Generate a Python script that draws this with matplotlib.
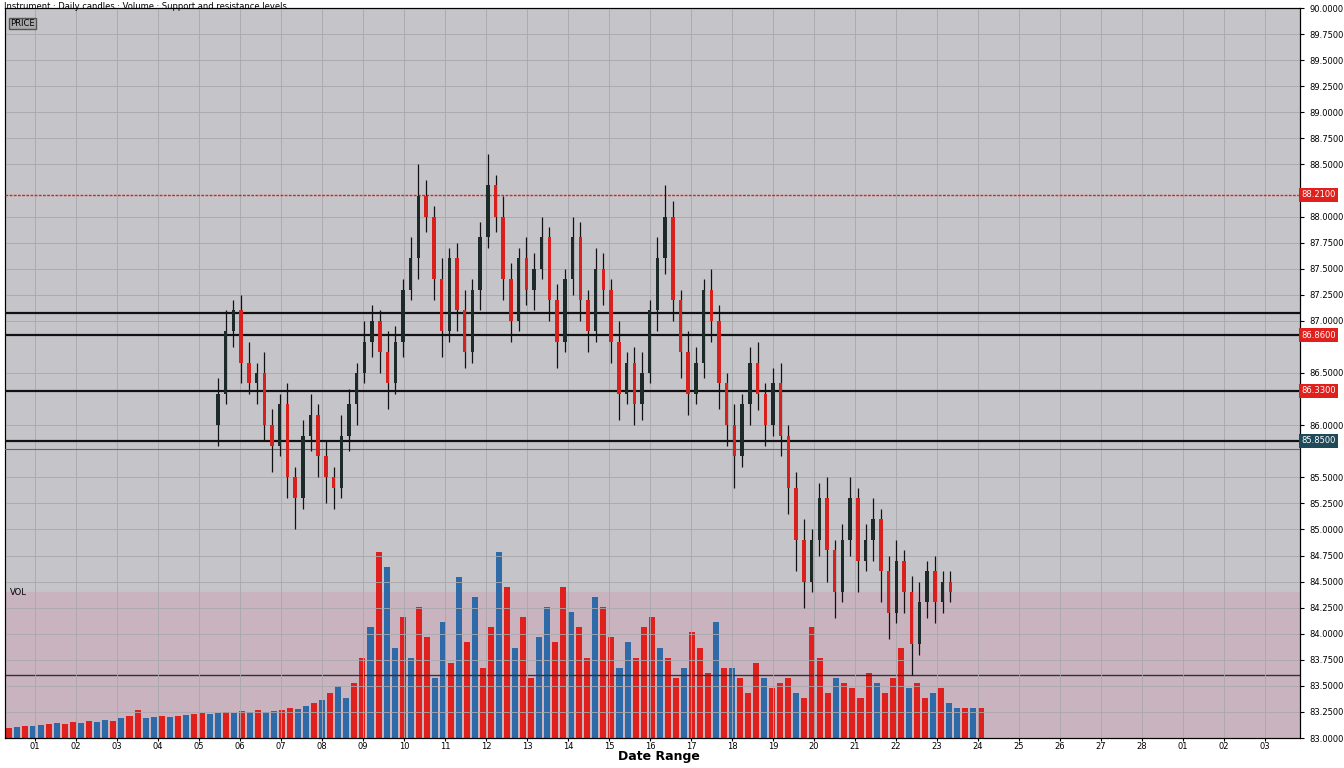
import matplotlib
matplotlib.use("Agg")
import matplotlib.pyplot as plt
from matplotlib.ticker import FormatStrFormatter

closes = [86.3,86.9,87.1,86.6,86.4,86.5,86.0,85.8,86.2,85.5,85.3,85.9,86.1,85.7,85.5,85.4,85.9,86.2,86.5,86.8,
          87.0,86.7,86.4,86.8,87.3,87.6,88.2,88.0,87.4,86.9,87.6,87.1,86.7,87.3,87.8,88.3,88.0,87.4,87.0,87.6,
          87.3,87.5,87.8,87.2,86.8,87.4,87.8,87.2,86.9,87.5,87.3,86.8,86.3,86.6,86.2,86.5,87.1,87.6,88.0,87.2,
          86.7,86.3,86.6,87.3,87.0,86.4,86.0,85.7,86.2,86.6,86.3,86.0,86.4,85.9,85.4,84.9,84.5,84.9,85.3,84.8,
          84.4,84.9,85.3,84.7,84.9,85.1,84.6,84.2,84.7,84.4,83.9,84.3,84.6,84.3,84.5,84.4]
wick_up = [0.15,0.2,0.1,0.15,0.2,0.1,0.2,0.15,0.1,0.2,0.1,0.15,0.2,0.1,0.15,0.1,0.2,0.15,0.1,0.2,
           0.15,0.1,0.2,0.15,0.1,0.2,0.3,0.15,0.1,0.2,0.1,0.15,0.2,0.1,0.15,0.3,0.1,0.2,0.15,0.1,
           0.2,0.15,0.2,0.1,0.15,0.1,0.2,0.15,0.1,0.2,0.15,0.1,0.2,0.1,0.15,0.2,0.1,0.2,0.3,0.15,
           0.1,0.2,0.15,0.1,0.2,0.15,0.1,0.2,0.1,0.15,0.2,0.1,0.15,0.2,0.1,0.15,0.2,0.1,0.15,0.2,
           0.1,0.15,0.2,0.1,0.15,0.2,0.1,0.15,0.2,0.1,0.15,0.2,0.1,0.15,0.1,0.1]
wick_dn = [0.2,0.1,0.15,0.2,0.1,0.2,0.15,0.25,0.1,0.2,0.3,0.1,0.15,0.2,0.25,0.2,0.1,0.15,0.2,0.1,
           0.15,0.2,0.25,0.1,0.15,0.1,0.2,0.15,0.2,0.25,0.1,0.2,0.15,0.1,0.2,0.1,0.15,0.2,0.2,0.1,
           0.15,0.2,0.1,0.2,0.25,0.1,0.15,0.2,0.2,0.1,0.15,0.2,0.25,0.1,0.2,0.15,0.1,0.2,0.15,0.2,
           0.25,0.2,0.1,0.15,0.2,0.25,0.2,0.3,0.1,0.2,0.15,0.2,0.1,0.2,0.25,0.3,0.25,0.1,0.15,0.3,
           0.25,0.1,0.15,0.3,0.1,0.2,0.3,0.25,0.1,0.2,0.3,0.1,0.15,0.2,0.1,0.1]
volumes = [10,11,12,12,13,14,15,14,16,15,17,16,18,17,20,22,28,20,21,22,21,22,23,24,25,24,25,26,25,27,
           26,28,26,27,28,30,29,32,35,38,45,52,40,55,80,110,185,170,90,120,80,130,100,60,115,75,160,95,140,70,
           110,185,150,90,120,60,100,130,95,150,125,110,80,140,130,100,70,95,80,110,120,90,80,60,70,105,90,65,
           115,70,70,60,45,75,60,50,55,60,45,40,110,80,45,60,55,50,40,65,55,45,60,90,50,55,40,45,50,35,30,30,30,30]
vol_dir = "rbrbbrbrrbrbbrbrrbbrbrbrrbbrbrbrbbrrbbrbrbbrrbrbbrbrrbbrbrbrrbrbrrbbrrbrrbrrbbrrrbrrbrrrbrbrrrbrrrbrrrrbrrrrbrrrbr"
levels_black = [87.08, 86.86, 86.33, 85.85]
level_red = 88.21

fig = plt.figure(figsize=(13.44, 7.68), dpi=100)
ax = fig.add_axes([5/1344, 30/768, 1295/1344, 730/768])
ax.set_xlim(0, 1295)
ax.set_ylim(83.0, 90.0)

vax = ax.twinx()
vmax = max(volumes)
vtop = vmax * 730 / 186
vax.set_ylim(0, vtop)
vax.set_yticks([])
vax.patch.set_visible(True)
vax.set_facecolor("#c5c5c9")
vax.axhspan(0, 146 / 730 * vtop, color="#c9b3bf", zorder=0)
vstep = 980 / len(volumes)
for i, v in enumerate(volumes):
    c = "#e0201c" if vol_dir[i % len(vol_dir)] == "r" else "#2f6aa8"
    vax.bar(i * vstep + vstep / 2, v, width=vstep * 0.75, color=c, zorder=2)
vax.axhline(63 / 730 * vtop, color="#333", lw=1)

ax.set_zorder(vax.get_zorder() + 1)
ax.patch.set_visible(False)

cstep = 740 / len(closes)
prev = closes[0] - 0.3
for i, c in enumerate(closes):
    x = 213 + i * cstep
    o = prev
    hi = max(o, c) + wick_up[i]
    lo = min(o, c) - wick_dn[i]
    col = "#1c2a2a" if c >= o else "#d8201c"
    ax.vlines(x, lo, hi, color="#111", lw=0.9, zorder=4)
    ax.bar(x, abs(c - o), bottom=min(o, c), width=cstep * 0.45, color=col, zorder=5)
    prev = c

for lv in levels_black:
    ax.axhline(lv, color="#111", lw=1.6, zorder=3)
ax.axhline(85.77, color="#666", lw=0.8, zorder=3)
ax.axhline(level_red, color="#e0201c", lw=1, ls=(0, (2, 1)), zorder=3)

ax.yaxis.tick_right()
ticks = [t / 4 for t in range(332, 361)]
ticks = [t for t in ticks if all(abs(t - l) > 0.12 for l in [level_red, 86.86, 86.33, 85.85])]
ax.set_yticks(ticks)
ax.yaxis.set_major_formatter(FormatStrFormatter("%.4f"))
ax.tick_params(axis="y", labelsize=6, length=3)
xt = list(range(30, 1295, 41))
ax.set_xticks(xt)
ax.set_xticklabels([f"{(i % 28) + 1:02d}" for i in range(len(xt))], fontsize=6)
ax.tick_params(axis="x", length=2, pad=1)
ax.grid(True, color="#a8a8ac", lw=0.6)

def tag(y, text, color):
    ax.text(1.001, (y - 83) / 7, text, transform=ax.transAxes, fontsize=6, color="white",
            va="center", ha="left", bbox=dict(boxstyle="square,pad=0.3", fc=color, ec="none"), zorder=10)
tag(level_red, f"{level_red:.4f}", "#e0201c")
tag(86.86, "86.8600", "#e0201c")
tag(86.33, "86.3300", "#e0201c")
tag(85.85, "85.8500", "#1e4a5a")

ax.text(0.004, 0.985, "PRICE", transform=ax.transAxes, fontsize=6, va="top",
        bbox=dict(fc="#aaa", ec="#555", pad=1))
ax.text(0.004, 0.205, "VOL", transform=ax.transAxes, fontsize=6, va="top")
fig.text(0.003, 0.997, "Instrument · Daily candles · Volume · Support and resistance levels", fontsize=6, va="top")
fig.text(0.49, 0.01, "Date Range", fontsize=9, fontweight="bold", ha="center")
fig.savefig("out.png", dpi=100)
